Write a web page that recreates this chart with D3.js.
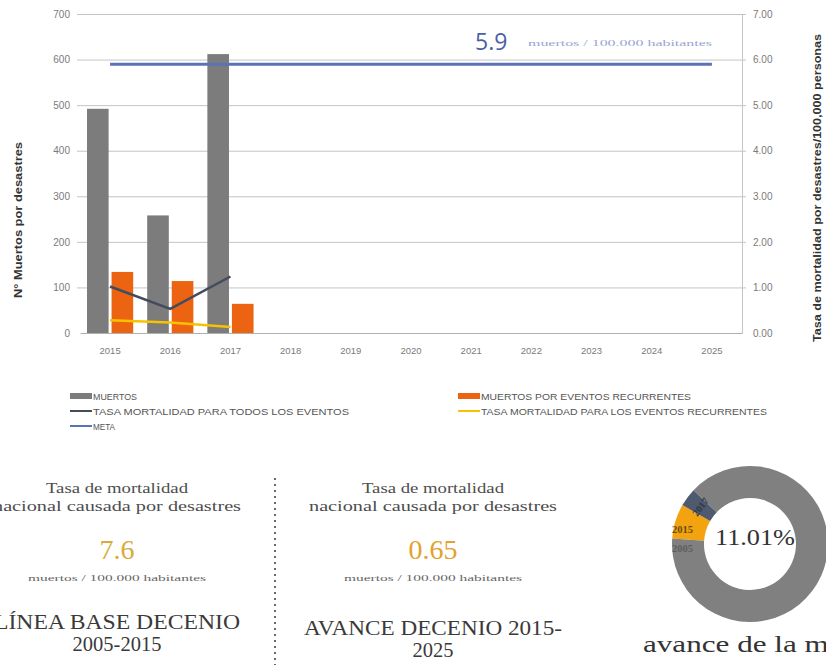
<!DOCTYPE html>
<html>
<head>
<meta charset="utf-8">
<script src="https://cdn.jsdelivr.net/npm/d3@7"></script>
<style>
  body { margin: 0; background: #ffffff; }
  svg { display: block; }
</style>
</head>
<body>
<svg id="chart" width="826" height="665"></svg>
<script>
// ---- data ----
const years = ["2015", "2016", "2017", "2018", "2019", "2020", "2021", "2022", "2023", "2024", "2025"];
const muertos = [492, 258, 612];
const muertosRecurrentes = [134, 114, 64];
const tasaTodos = [1.02, 0.53, 1.24];
const tasaRecurrentes = [0.28, 0.23, 0.13];
const meta = 5.9;
const leftTicks = [0, 100, 200, 300, 400, 500, 600, 700];
const rightTicks = [0, 1, 2, 3, 4, 5, 6, 7];
const lineaBase = 7.6;
const avance = 0.65;
const avanceLabels = ["2015", "2017", ""];
const avanceValues = [7.2, 3.81, 88.99];
const avancePct = "11.01%";

const svg = d3.select("#chart");
const sansFont = "'Liberation Sans', Arial, sans-serif";
const serifFont = "'Liberation Serif', 'Times New Roman', serif";

const C = {
  grid: "#c4c4c4",
  tick: "#7a7a7a",
  bar: "#7c7c7c",
  orange: "#ec6412",
  dark: "#434c5c",
  yellow: "#f7c300",
  blue: "#5b72b6",
  text: "#4d4d4d"
};

// ---- scales ----
const x = d3.scaleBand().domain(years).range([80, 742]).paddingInner(0).paddingOuter(0);
const x1 = d3.scaleBand().domain(["m", "r"]).range([7, x.bandwidth() - 7]).paddingInner(0.12);
const yL = d3.scaleLinear().domain([0, 700]).range([333, 14]);
const yR = d3.scaleLinear().domain([0, 7]).range([333, 14]);

// ---- grid ----
const gGrid = svg.append("g");
gGrid.selectAll("line").data(leftTicks.slice(1)).join("line")
  .attr("x1", 77).attr("x2", 746)
  .attr("y1", d => yL(d) + 0.5).attr("y2", d => yL(d) + 0.5)
  .attr("stroke", C.grid).attr("stroke-width", 1);

// left axis labels
const axL = svg.append("g").attr("transform", "translate(80,0)")
  .call(d3.axisLeft(yL).tickValues(leftTicks).tickSize(0).tickPadding(10).tickFormat(d3.format("d")));
axL.select(".domain").remove();
axL.selectAll("text").attr("font-family", sansFont).attr("font-size", 10).attr("fill", C.tick);

// right axis
const axR = svg.append("g").attr("transform", "translate(742,0)")
  .call(d3.axisRight(yR).tickValues(rightTicks).tickSize(0).tickPadding(11).tickFormat(d3.format(".2f")));
axR.select(".domain").attr("stroke", C.grid);
axR.selectAll("text").attr("font-family", sansFont).attr("font-size", 10).attr("fill", C.tick);

// bottom axis
const axB = svg.append("g").attr("transform", "translate(0,333)")
  .call(d3.axisBottom(x).tickSize(0).tickPadding(14));
axB.select(".domain").attr("stroke", "#b0b0b0").attr("stroke-width", 1.2);
axB.selectAll("text").attr("font-family", sansFont).attr("font-size", 9.5).attr("fill", C.tick);

// ---- bars ----
const barG = svg.append("g");
barG.selectAll("rect.m").data(muertos).join("rect").attr("class", "m")
  .attr("x", (d, i) => x(years[i]) + x1("m"))
  .attr("width", x1.bandwidth())
  .attr("y", d => yL(d)).attr("height", d => yL(0) - yL(d))
  .attr("fill", C.bar);
barG.selectAll("rect.r").data(muertosRecurrentes).join("rect").attr("class", "r")
  .attr("x", (d, i) => x(years[i]) + x1("r"))
  .attr("width", x1.bandwidth())
  .attr("y", d => yL(d)).attr("height", d => yL(0) - yL(d))
  .attr("fill", C.orange);

// ---- lines ----
const cx = (i) => x(years[i]) + x.bandwidth() / 2;
const line = d3.line().x((d, i) => cx(i)).y(d => yR(d));
svg.append("path").datum(tasaTodos).attr("d", line)
  .attr("fill", "none").attr("stroke", C.dark).attr("stroke-width", 2.5);
svg.append("path").datum(tasaRecurrentes).attr("d", line)
  .attr("fill", "none").attr("stroke", C.yellow).attr("stroke-width", 2.5);

// meta line
svg.append("line")
  .attr("x1", cx(0)).attr("x2", cx(years.length - 1))
  .attr("y1", yR(meta)).attr("y2", yR(meta))
  .attr("stroke", C.blue).attr("stroke-width", 3);
svg.append("text").attr("x", 475).attr("y", 50)
  .attr("font-family", "'Open Sans', sans-serif").attr("font-size", 23)
  .attr("fill", "#4a5fa5").text(d3.format(".1f")(meta));
svg.append("text").attr("x", 528).attr("y", 46)
  .attr("font-family", serifFont).attr("font-size", 8.5)
  .attr("fill", "#97a6d4").attr("textLength", 184).attr("lengthAdjust", "spacingAndGlyphs")
  .text("muertos / 100.000 habitantes");

// ---- axis titles ----
svg.append("text").attr("transform", "translate(22,220) rotate(-90)")
  .attr("text-anchor", "middle").attr("font-family", sansFont).attr("font-weight", "bold")
  .attr("font-size", 10).attr("fill", "#333").attr("textLength", 156).attr("lengthAdjust", "spacingAndGlyphs")
  .text("N° Muertos por desastres");
svg.append("text").attr("transform", "translate(821,188) rotate(-90)")
  .attr("text-anchor", "middle").attr("font-family", sansFont).attr("font-weight", "bold")
  .attr("font-size", 10).attr("fill", "#333").attr("textLength", 308).attr("lengthAdjust", "spacingAndGlyphs")
  .text("Tasa de mortalidad por desastres/100,000 personas");

// ---- legend ----
const legend = [
  { label: "MUERTOS", type: "rect", color: C.bar, x: 70, y: 396, len: 44 },
  { label: "MUERTOS POR EVENTOS RECURRENTES", type: "rect", color: C.orange, x: 458, y: 396, len: 210 },
  { label: "TASA MORTALIDAD PARA TODOS LOS EVENTOS", type: "line", color: C.dark, x: 70, y: 411, len: 256 },
  { label: "TASA MORTALIDAD PARA LOS EVENTOS RECURRENTES", type: "line", color: C.yellow, x: 458, y: 411, len: 286 },
  { label: "META", type: "line", color: C.blue, x: 70, y: 426, len: 22 }
];
const lg = svg.append("g").selectAll("g").data(legend).join("g")
  .attr("transform", d => `translate(${d.x},${d.y})`);
lg.filter(d => d.type === "rect").append("rect")
  .attr("x", 0).attr("y", -3).attr("width", 22).attr("height", 6).attr("fill", d => d.color);
lg.filter(d => d.type === "line").append("line")
  .attr("x1", 0).attr("x2", 22).attr("y1", 0).attr("y2", 0)
  .attr("stroke", d => d.color).attr("stroke-width", 2);
lg.append("text").attr("x", 23).attr("y", 3.5)
  .attr("font-family", sansFont).attr("font-size", 9).attr("fill", "#555")
  .attr("textLength", d => d.len).attr("lengthAdjust", "spacingAndGlyphs")
  .text(d => d.label);

// ---- lower panels ----
function panel(cxp, dy, value, color, title, titleLen) {
  const g = svg.append("g").attr("font-family", serifFont).attr("text-anchor", "middle");
  g.append("text").attr("x", cxp).attr("y", 493).attr("font-size", 15).attr("fill", C.text)
    .attr("textLength", 142).attr("lengthAdjust", "spacingAndGlyphs").text("Tasa de mortalidad");
  g.append("text").attr("x", cxp).attr("y", 511).attr("font-size", 15).attr("fill", C.text)
    .attr("textLength", 248).attr("lengthAdjust", "spacingAndGlyphs").text("nacional causada por desastres");
  g.append("text").attr("x", cxp).attr("y", 559).attr("font-size", 28).attr("fill", color)
    .text(value);
  g.append("text").attr("x", cxp).attr("y", 581).attr("font-size", 9).attr("fill", "#666")
    .attr("textLength", 178).attr("lengthAdjust", "spacingAndGlyphs").text("muertos / 100.000 habitantes");
  g.append("text").attr("x", cxp).attr("y", 629 + dy).attr("font-size", 20.5).attr("fill", "#3a3a3a")
    .attr("textLength", titleLen).attr("lengthAdjust", "spacingAndGlyphs").text(title[0]);
  g.append("text").attr("x", cxp).attr("y", 651 + dy).attr("font-size", 20.5).attr("fill", "#3a3a3a")
    .text(title[1]);
}
panel(117, 0, d3.format(".1f")(lineaBase), "#d9ab3a", ["LÍNEA BASE DECENIO", "2005-2015"], 246);
panel(433, 6, d3.format(".2f")(avance), "#e3a12e", ["AVANCE DECENIO 2015-", "2025"], 258);

// dashed divider
svg.append("line").attr("x1", 275).attr("x2", 275).attr("y1", 478).attr("y2", 665)
  .attr("stroke", "#444").attr("stroke-width", 1.6).attr("stroke-dasharray", "2,4");

// ---- progress donut ----
const donutC = [750, 544];
const startA = -86 * Math.PI / 180;
const pie = d3.pie().sort(null).value(d => d)
  .startAngle(startA).endAngle(startA + 2 * Math.PI);
const arcs = pie(avanceValues);
const arc = d3.arc().innerRadius(46).outerRadius(78);
const donutColors = ["#f2a30f", "#4f5a6e", "#808080"];
const dg = svg.append("g").attr("transform", `translate(${donutC[0]},${donutC[1]})`);
dg.selectAll("path").data(arcs).join("path").attr("d", arc).attr("fill", (d, i) => donutColors[i]);
dg.append("text").attr("x", 5).attr("y", 1).attr("text-anchor", "middle")
  .attr("font-family", serifFont).attr("font-size", 24).attr("fill", "#333")
  .attr("textLength", 80).attr("lengthAdjust", "spacingAndGlyphs").text(avancePct);
// segment labels
dg.append("text").attr("x", -78).attr("y", -11).attr("font-family", serifFont).attr("font-size", 10.5)
  .attr("font-weight", "bold").attr("fill", "#6b4a10").text(avanceLabels[0]);
dg.append("text").attr("x", -78).attr("y", 8).attr("font-family", serifFont).attr("font-size", 10.5)
  .attr("font-weight", "bold").attr("fill", "#5e5e5e").text("2005");
const a1 = arcs[1];
const mid = (a1.startAngle + a1.endAngle) / 2;
const [lx, ly] = d3.arc().innerRadius(62).outerRadius(62).centroid(a1);
dg.append("text").attr("transform", `translate(${lx},${ly}) rotate(${mid * 180 / Math.PI})`)
  .attr("text-anchor", "middle").attr("dominant-baseline", "central")
  .attr("font-family", serifFont).attr("font-size", 10).attr("font-weight", "bold")
  .attr("fill", "#2f3848").text(avanceLabels[1]);

svg.append("text").attr("x", 643).attr("y", 652)
  .attr("font-family", serifFont).attr("font-size", 23).attr("fill", "#333")
  .attr("textLength", 222).attr("lengthAdjust", "spacingAndGlyphs")
  .text("avance de la meta");
</script>
</body>
</html>
